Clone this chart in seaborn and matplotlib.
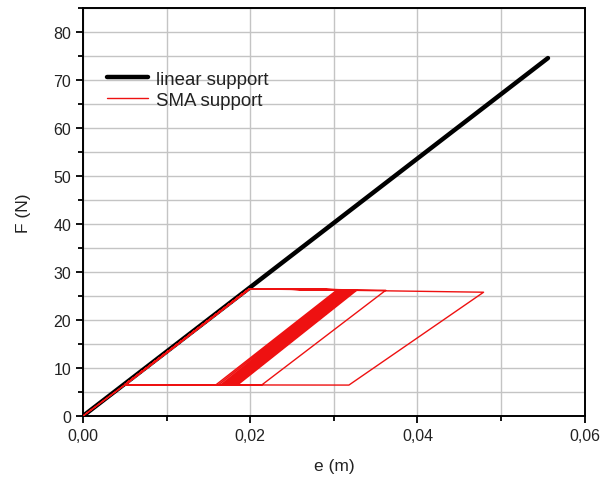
import matplotlib
matplotlib.use("Agg")
import matplotlib.pyplot as plt
from matplotlib.ticker import MultipleLocator, FuncFormatter
import numpy as np
import pandas as pd
import seaborn as sns

# Linear support: straight force-displacement line
linear_e = [0.0, 0.0556]
linear_F = [0.0, 74.6]

# SMA support: shared corners of the hysteresis loops
load_start_e, load_start_F = 0.0050, 6.5      # lower plateau meets elastic branch
upper_start_e, upper_start_F = 0.0199, 26.5   # upper plateau starts on elastic branch

# Per-cycle turning points (upper-right peak, lower-right valley)
peak_e = [0.0479, 0.0362, 0.0328, 0.0326, 0.0324, 0.0322, 0.0320, 0.0318,
          0.0316, 0.0314, 0.0312, 0.0310, 0.0308, 0.0306, 0.0304]
peak_F = [25.8, 26.2, 26.3, 26.3, 26.3, 26.3, 26.3, 26.3,
          26.3, 26.3, 26.3, 26.3, 26.3, 26.3, 26.3]
valley_e = [0.0318, 0.0214, 0.0185, 0.0183, 0.0181, 0.0179, 0.0177, 0.0175,
            0.0173, 0.0171, 0.0169, 0.0167, 0.0165, 0.0162, 0.0159]
valley_F = [6.45, 6.5, 6.5, 6.5, 6.5, 6.5, 6.5, 6.5,
            6.5, 6.5, 6.5, 6.5, 6.5, 6.5, 6.5]

# Build the SMA path: initial loading, then each cycle
sma_e = [0.0, load_start_e]
sma_F = [0.0, load_start_F]
for pe, pf, ve, vf in zip(peak_e, peak_F, valley_e, valley_F):
    sma_e += [upper_start_e, pe, ve, load_start_e]
    sma_F += [upper_start_F, pf, vf, load_start_F]
sma_e += [0.0]
sma_F += [0.0]

lin_df = pd.DataFrame({"e": linear_e, "F": linear_F})
sma_df = pd.DataFrame({"e": sma_e, "F": sma_F})

sns.set_theme(style="ticks")
plt.rcParams["font.family"] = ["Liberation Sans", "DejaVu Sans"]

fig = plt.figure(figsize=(6.01, 4.81), dpi=100)
ax = fig.add_axes([0.138, 0.133, 0.835, 0.848])

sns.lineplot(data=lin_df, x="e", y="F", sort=False, estimator=None,
             color="black", linewidth=3.2, label="linear support", ax=ax, zorder=3)
sns.lineplot(data=sma_df, x="e", y="F", sort=False, estimator=None,
             color="#ee1111", linewidth=1.0, label="SMA support", ax=ax, zorder=4)

ax.set_xlim(0, 0.06)
ax.set_ylim(0, 85)
ax.xaxis.set_major_locator(MultipleLocator(0.02))
ax.xaxis.set_minor_locator(MultipleLocator(0.01))
ax.yaxis.set_major_locator(MultipleLocator(10))
ax.yaxis.set_minor_locator(MultipleLocator(5))
ax.xaxis.set_major_formatter(FuncFormatter(lambda v, p: f"{v:.2f}".replace(".", ",")))

ax.grid(True, which="both", color="#c4c4c4", linewidth=1.0, zorder=0)
ax.set_axisbelow(True)

for s in ax.spines.values():
    s.set_linewidth(1.4)
    s.set_color("black")
ax.tick_params(which="major", direction="out", length=5, width=1.3,
               labelsize=11.5, colors="black", labelcolor="#222222")
ax.tick_params(which="minor", direction="out", length=3.5, width=1.3, colors="black")

ax.set_xlabel("e (m)", fontsize=12.5, color="#222222", labelpad=11)
ax.set_ylabel("F (N)", fontsize=12.5, color="#222222", labelpad=16)

leg = ax.legend(loc="upper left", bbox_to_anchor=(0.036, 0.86), frameon=False,
                fontsize=13.4, handlelength=2.25, handletextpad=0.38,
                labelspacing=0.2, borderaxespad=0, borderpad=0.3)
for t in leg.get_texts():
    t.set_color("#222222")

fig.savefig("out.png", dpi=100)
